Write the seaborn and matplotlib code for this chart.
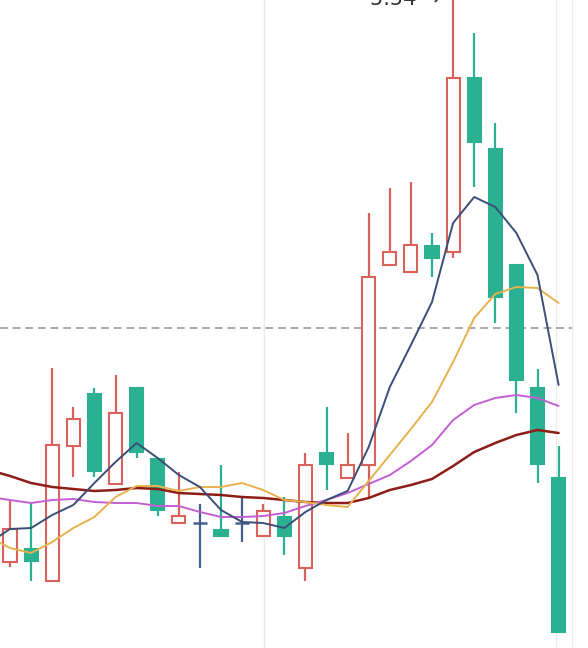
import matplotlib
matplotlib.use('Agg')
import matplotlib.pyplot as plt
import pandas as pd
import seaborn as sns

# candles (visible window), prices
opens  = [4.406, 4.432, 4.368, 4.638, 4.742, 4.562, 4.754, 4.612, 4.484, 4.484,
          4.470, 4.484, 4.458, 4.496, 4.394, 4.624, 4.574, 4.600, 5.000, 4.986,
          5.038, 5.026, 5.374, 5.232, 5.000, 4.754, 4.574]
highs  = [4.530, 4.524, 4.794, 4.716, 4.754, 4.780, 4.754, 4.612, 4.586, 4.522,
          4.600, 4.536, 4.522, 4.536, 4.624, 4.716, 4.664, 5.104, 5.154, 5.166,
          5.064, 5.540, 5.464, 5.284, 5.000, 4.792, 4.638]
lows   = [4.396, 4.368, 4.368, 4.576, 4.576, 4.562, 4.614, 4.498, 4.484, 4.394,
          4.458, 4.446, 4.458, 4.420, 4.368, 4.550, 4.574, 4.536, 5.000, 4.986,
          4.976, 5.014, 5.156, 4.884, 4.704, 4.564, 4.266]
closes = [4.472, 4.408, 4.640, 4.692, 4.588, 4.704, 4.626, 4.510, 4.498, 4.484,
          4.458, 4.484, 4.508, 4.458, 4.600, 4.602, 4.600, 4.976, 5.026, 5.040,
          5.014, 5.374, 5.246, 4.936, 4.770, 4.602, 4.266]

# moving averages, one point before the first visible candle
ma5  = [4.444, 4.472, 4.474, 4.500, 4.520, 4.564, 4.606, 4.644, 4.614, 4.580,
        4.556, 4.510, 4.486, 4.484, 4.474, 4.506, 4.530, 4.548, 4.636, 4.756,
        4.840, 4.926, 5.084, 5.136, 5.116, 5.064, 4.980, 4.760]
ma10 = [4.456, 4.434, 4.424, 4.446, 4.474, 4.496, 4.536, 4.558, 4.558, 4.548,
        4.556, 4.556, 4.564, 4.550, 4.530, 4.526, 4.520, 4.516, 4.568, 4.620,
        4.672, 4.726, 4.806, 4.894, 4.942, 4.956, 4.954, 4.924]
ma20 = [4.536, 4.530, 4.524, 4.530, 4.532, 4.526, 4.524, 4.524, 4.518, 4.518,
        4.506, 4.496, 4.496, 4.498, 4.504, 4.518, 4.530, 4.544, 4.562, 4.580,
        4.608, 4.640, 4.690, 4.720, 4.734, 4.740, 4.734, 4.718]
ma30 = [4.590, 4.578, 4.564, 4.556, 4.552, 4.548, 4.550, 4.554, 4.552, 4.544,
        4.542, 4.540, 4.536, 4.534, 4.530, 4.526, 4.524, 4.524, 4.534, 4.550,
        4.560, 4.572, 4.598, 4.626, 4.644, 4.660, 4.670, 4.664]

ref_price = 4.874
max_label = '5.54 →'

UP = '#d9625c'
DOWN = '#2bb192'
FLAT = '#46608c'

sns.set_style('white')

fig = plt.figure(figsize=(5.88, 6.48), dpi=100)
ax = fig.add_axes([0, 0, 572 / 588, 1])

n = len(opens)
df = pd.DataFrame({'i': range(1, n + 1), 'open': opens, 'high': highs,
                   'low': lows, 'close': closes})

for _, r in df.iterrows():
    if r['close'] > r['open']:
        c, face = UP, 'white'
    elif r['close'] < r['open']:
        c, face = DOWN, DOWN
    else:
        c, face = FLAT, FLAT
    ax.vlines(r['i'], r['low'], r['high'], color=c, lw=1.6, zorder=2)
    if r['close'] == r['open']:
        ax.hlines(r['open'], r['i'] - 0.32, r['i'] + 0.32, color=c, lw=1.8, zorder=3)
    else:
        lo = min(r['open'], r['close'])
        ax.bar(r['i'], abs(r['close'] - r['open']), bottom=lo, width=0.62,
               facecolor=face, edgecolor=c, linewidth=1.5, zorder=3)

ma = pd.DataFrame({'i': range(0, n + 1), 'ma5': ma5, 'ma10': ma10,
                   'ma20': ma20, 'ma30': ma30})
sns.lineplot(data=ma, x='i', y='ma30', color='#8e1c16', lw=1.8, ax=ax, zorder=4)
sns.lineplot(data=ma, x='i', y='ma20', color='#c45fd3', lw=1.4, ax=ax, zorder=4)
sns.lineplot(data=ma, x='i', y='ma10', color='#e7b24e', lw=1.4, ax=ax, zorder=4)
sns.lineplot(data=ma, x='i', y='ma5', color='#3a4e78', lw=1.4, ax=ax, zorder=5)

ax.axhline(ref_price, color='#a8a8a8', lw=1.4, ls=(0, (4, 2.5)), zorder=1)
ax.axvline(13.04, color='#ebebeb', lw=1.0, zorder=0)
ax.axvline(26.9, color='#ebebeb', lw=1.0, zorder=0)

ax.annotate(max_label, xy=(22 - 0.62, highs[21]), xytext=(0, -7.2),
            textcoords='offset points', ha='right', va='baseline',
            fontsize=15, color='#333333', annotation_clip=False)

ax.set_xlim(0.526, 27.635)
ax.set_ylim(4.234, 5.53)
ax.set_xlabel('')
ax.set_ylabel('')
ax.set_xticks([])
ax.set_yticks([])
for s in ['top', 'left', 'bottom']:
    ax.spines[s].set_visible(False)
ax.spines['right'].set_color('#ececec')
ax.spines['right'].set_linewidth(1.0)

fig.savefig('out.png', dpi=100)
